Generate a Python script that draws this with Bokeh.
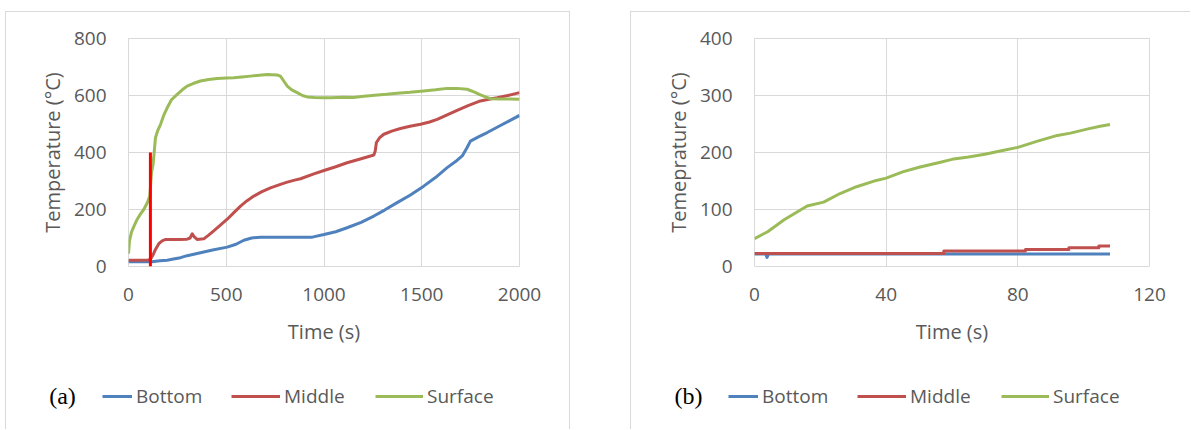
from bokeh.plotting import figure
from bokeh.layouts import row, column
from bokeh.models import FixedTicker, Legend, LegendItem, Label, Range1d
from bokeh.embed import file_html
from bokeh.resources import INLINE

# ---------------- Panel (a) data ----------------
a_surface_t = [0, 5, 15, 27, 44, 60, 78, 95, 109, 118, 126, 138, 150, 164, 180, 198, 220, 249, 275,
               300, 330, 368, 410, 454, 500, 539, 580, 624, 670, 709, 760, 777, 795, 812, 835, 863,
               890, 914, 950, 1000, 1033, 1100, 1150, 1204, 1260, 1320, 1374, 1440, 1510, 1570,
               1630, 1680, 1732, 1770, 1800, 1830, 1852, 1900, 1950, 2000]
a_surface_T = [45, 90, 120, 140, 165, 183, 200, 222, 247, 330, 360, 452, 478, 499, 530, 557, 585, 604, 620,
               633, 642, 651, 656, 660, 661, 662, 665, 668, 671, 674, 672, 668, 650, 633, 620, 610,
               600, 595, 593, 592, 592, 594, 593, 597, 601, 604, 608, 611, 616, 620,
               625, 625, 622, 612, 602, 594, 589, 588, 588, 587]

a_middle_t = [0, 50, 100, 112, 125, 138, 155, 172, 190, 215, 260, 300, 315, 326, 335, 351, 385, 410,
              436, 470, 505, 540, 573, 605, 641, 680, 726, 777, 812, 850, 880, 948, 1000, 1060, 1118,
              1190, 1255, 1262, 1268, 1285, 1306, 1350, 1391, 1440, 1494, 1540, 1579, 1630, 1681,
              1740, 1800, 1850, 1886, 1940, 2000]
a_middle_T = [22, 22, 23, 25, 40, 60, 80, 90, 95, 95, 95, 96, 100, 115, 105, 95, 97, 110,
              125, 145, 166, 190, 212, 230, 247, 262, 276, 288, 296, 303, 308, 325, 337, 350, 364,
              378, 391, 405, 435, 452, 464, 476, 484, 492, 499, 507, 516, 532, 548,
              565, 581, 588, 592, 600, 610]

a_bottom_t = [0, 60, 120, 160, 198, 230, 266, 300, 368, 430, 505, 550, 590, 630, 675, 750, 850, 940,
              1000, 1060, 1118, 1190, 1255, 1310, 1374, 1440, 1510, 1570, 1630, 1680, 1707, 1730,
              1749, 1790, 1835, 1900, 1950, 2000]
a_bottom_T = [17, 17, 17, 20, 22, 26, 31, 38, 48, 58, 68, 78, 92, 100, 103, 103, 103, 103,
              112, 122, 136, 155, 177, 198, 224, 250, 282, 312, 347, 372, 388, 415,
              440, 455, 470, 494, 512, 530]

a_marker_t = [112, 112]
a_marker_T = [0, 400]

a_xticks = [0, 500, 1000, 1500, 2000]
a_yticks = [0, 200, 400, 600, 800]

# ---------------- Panel (b) data ----------------
b_surface_t = [0, 4, 9, 16, 21, 26, 31, 37, 40, 45, 50, 56.5, 60, 65, 70, 75, 80, 86, 92, 96, 101, 105, 108]
b_surface_T = [49, 61, 82, 106, 113, 128, 140, 151, 155, 166, 174, 183, 188, 192, 197, 203, 209, 220, 230,
               234, 241, 246, 249]

b_middle_t = [0, 57.5, 57.5, 82.3, 82.3, 95.5, 95.5, 104.6, 104.6, 108]
b_middle_T = [23, 23, 27, 27, 30, 30, 33, 33, 36, 36]

b_bottom_t = [0, 3.4, 3.8, 4.3, 108]
b_bottom_T = [22, 22, 16, 22, 22]

b_xticks = [0, 40, 80, 120]
b_yticks = [0, 100, 200, 300, 400]

series_names = ["Bottom", "Middle", "Surface"]

# ---------------- styling ----------------
FONT = "Open Sans"
GRAY = "#595959"
GRID = "#d9d9d9"
COLORS = {"Bottom": "#4F81BD", "Middle": "#C0504D", "Surface": "#9BBB59"}
BORDER = "1px solid #d9d9d9"

CHART_H = 340
LEG_H = 78
FRAME_H = 228
TOP = 26


def make_panel(x0, width, left, frame_w, xmax, ymax, xticks, yticks, ylabel, series, tag,
               marker=None, right_border=True):
    right = width - left - frame_w
    p = figure(width=width, height=CHART_H,
               x_range=Range1d(0, xmax), y_range=Range1d(0, ymax),
               output_backend="svg", toolbar_location=None,
               min_border_left=left, min_border_right=right,
               min_border_top=TOP, min_border_bottom=CHART_H - TOP - FRAME_H,
               background_fill_color="white", border_fill_color="white",
               outline_line_color=GRID)
    st = {"border-left": BORDER, "border-top": BORDER}
    if right_border:
        st["border-right"] = BORDER
    p.styles = st
    p.margin = (11, 0, 0, x0)

    p.xaxis.ticker = FixedTicker(ticks=xticks)
    p.yaxis.ticker = FixedTicker(ticks=yticks)
    for ax in (p.xaxis, p.yaxis):
        ax.axis_line_color = None
        ax.major_tick_line_color = None
        ax.minor_tick_line_color = None
        ax.major_tick_out = 0
        ax.major_tick_in = 0
        ax.major_label_text_font = FONT
        ax.major_label_text_font_size = "19px"
        ax.major_label_text_color = GRAY
        ax.axis_label_text_font = FONT
        ax.axis_label_text_font_size = "20px"
        ax.axis_label_text_color = GRAY
        ax.axis_label_text_font_style = "normal"
    p.xaxis.axis_label = "Time (s)"
    p.yaxis.axis_label = ylabel
    p.xaxis.major_label_standoff = 21
    p.xaxis.axis_label_standoff = 14
    p.yaxis.major_label_standoff = 22
    p.yaxis.axis_label_standoff = 5
    p.xgrid.grid_line_color = GRID
    p.ygrid.grid_line_color = GRID

    for name in series_names:
        t, T = series[name]
        p.line(t, T, line_color=COLORS[name], line_width=3, line_join="round")

    if marker is not None:
        p.line(marker[0], marker[1], line_color="#ff0000", line_width=3)

    # legend strip below the chart, inside the same panel box
    lf = figure(width=width, height=LEG_H, x_range=Range1d(0, xmax), y_range=Range1d(0, ymax),
                x_axis_type=None, y_axis_type=None,
                output_backend="svg", toolbar_location=None,
                min_border_left=0, min_border_right=0, min_border_top=0, min_border_bottom=0,
                background_fill_color="white", border_fill_color="white",
                outline_line_color=None)
    aligned = True
    if "frame_align" in lf.properties():
        lf.frame_align = False
        aligned = False
    lf.xgrid.visible = False
    lf.ygrid.visible = False
    st2 = {"border-left": BORDER}
    if right_border:
        st2["border-right"] = BORDER
    lf.styles = st2
    lf.margin = (0, 0, 0, x0)

    # hidden copies of the series, used only as legend swatches
    swatches = {}
    for name in series_names:
        t, T = series[name]
        swatches[name] = lf.line(t, T, line_color=COLORS[name], line_width=3, visible=False)

    off = -left if aligned else 0
    spec = [("Bottom", left - 26, 30), ("Middle", left + 103, 49), ("Surface", left + 247, 48)]
    for name, lx, gw in spec:
        lg = Legend(items=[LegendItem(label=name, renderers=[swatches[name]])],
                    location=(lx + off, 20), orientation="horizontal",
                    glyph_width=gw, glyph_height=20, label_height=20,
                    label_standoff=4, padding=0, margin=0, spacing=0,
                    border_line_color=None, background_fill_alpha=0,
                    label_text_font=FONT, label_text_font_size="19px",
                    label_text_color=GRAY)
        lf.add_layout(lg)

    lf.add_layout(Label(x=left - 66 + off, y=34, x_units="screen", y_units="screen", text=tag,
                        text_align="center", text_baseline="middle",
                        text_font="Liberation Serif", text_font_size="24px",
                        text_color="black"))
    return column(p, lf)


pa = make_panel(5, 565, 122, 391, 2000, 800, a_xticks, a_yticks, "Temperature (°C)",
                {"Bottom": (a_bottom_t, a_bottom_T), "Middle": (a_middle_t, a_middle_T),
                 "Surface": (a_surface_t, a_surface_T)}, "(a)",
                marker=(a_marker_t, a_marker_T))
pb = make_panel(60, 560, 123, 395, 120, 400, b_xticks, b_yticks, "Temeprature (°C)",
                {"Bottom": (b_bottom_t, b_bottom_T), "Middle": (b_middle_t, b_middle_T),
                 "Surface": (b_surface_t, b_surface_T)}, "(b)", right_border=False)

layout = row(pa, pb)

with open("out.html", "w") as f:
    f.write(file_html(layout, INLINE))
